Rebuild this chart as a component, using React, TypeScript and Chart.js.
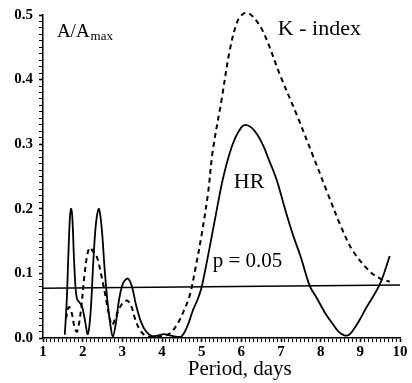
import React, { useEffect, useRef } from 'react';
import { Chart, registerables } from 'chart.js';

Chart.register(...registerables);

// HR (solid) spectrum
const hrPeriod = [1.55, 1.6, 1.64, 1.68, 1.71, 1.74, 1.78, 1.82, 1.86, 1.92, 1.98, 2.05, 2.13, 2.2, 2.27, 2.34, 2.41, 2.48, 2.55, 2.62, 2.7, 2.76, 2.83, 2.92, 3.02, 3.14, 3.24, 3.35, 3.47, 3.6, 3.75, 3.9, 4.05, 4.2, 4.35, 4.5, 4.65, 4.78, 4.9, 5.0, 5.2, 5.4, 5.53, 5.7, 5.85, 6.0, 6.1, 6.25, 6.4, 6.55, 6.7, 6.89, 7.1, 7.3, 7.5, 7.73, 7.9, 8.1, 8.3, 8.45, 8.6, 8.72, 8.85, 9.0, 9.16, 9.33, 9.49, 9.62, 9.74];
const hrAmp = [0.005, 0.06, 0.13, 0.188, 0.2, 0.186, 0.125, 0.078, 0.06, 0.055, 0.05, 0.03, 0.006, 0.04, 0.12, 0.18, 0.2, 0.17, 0.11, 0.06, 0.02, 0.002, 0.02, 0.06, 0.085, 0.092, 0.08, 0.05, 0.025, 0.01, 0.003, 0.004, 0.006, 0.004, 0.002, 0.003, 0.02, 0.043, 0.06, 0.079, 0.14, 0.205, 0.245, 0.285, 0.31, 0.326, 0.33, 0.326, 0.315, 0.298, 0.275, 0.245, 0.2, 0.16, 0.125, 0.08, 0.062, 0.04, 0.022, 0.01, 0.004, 0.005, 0.015, 0.03, 0.048, 0.065, 0.083, 0.104, 0.127];

// K-index (dashed) spectrum
const kPeriod = [1.58, 1.65, 1.72, 1.8, 1.86, 1.95, 2.05, 2.12, 2.18, 2.25, 2.36, 2.46, 2.56, 2.65, 2.74, 2.82, 2.92, 3.02, 3.12, 3.22, 3.32, 3.42, 3.55, 3.7, 3.9, 4.1, 4.25, 4.4, 4.55, 4.7, 4.85, 5.0, 5.16, 5.28, 5.5, 5.71, 5.9, 6.05, 6.16, 6.3, 6.5, 6.67, 6.97, 7.4, 7.8, 8.15, 8.53, 8.81, 9.24, 9.5, 9.74];
const kAmp = [0.03, 0.048, 0.04, 0.015, 0.01, 0.04, 0.1, 0.13, 0.14, 0.135, 0.125, 0.1, 0.07, 0.04, 0.02, 0.03, 0.045, 0.055, 0.058, 0.05, 0.03, 0.015, 0.005, 0.002, 0.002, 0.004, 0.01, 0.023, 0.042, 0.066, 0.11, 0.16, 0.224, 0.29, 0.368, 0.446, 0.49, 0.502, 0.503, 0.497, 0.48, 0.457, 0.408, 0.345, 0.283, 0.228, 0.17, 0.135, 0.103, 0.092, 0.087];

// significance level p = 0.05
const pPeriod = [1, 10];
const pAmp = [0.077, 0.082];

const xTickLabels = ['1', '2', '3', '4', '5', '6', '7', '8', '9', '10'];
const yTickLabels = ['0.0', '0.1', '0.2', '0.3', '0.4', '0.5'];

const toXY = (xs: number[], ys: number[]) => xs.map((x, i) => ({ x, y: ys[i] }));

const SERIF = '"Liberation Serif", "Times New Roman", serif';

const textPlugin = {
  id: 'textLabels',
  afterDraw(chart: any) {
    const { ctx, scales } = chart;
    const xs = scales.x;
    const ys = scales.y;
    ctx.save();
    ctx.fillStyle = '#000';
    ctx.textBaseline = 'alphabetic';
    ctx.textAlign = 'left';

    // A/A_max
    ctx.font = `19px ${SERIF}`;
    const ax = xs.getPixelForValue(1.35);
    const ay = ys.getPixelForValue(0.466);
    ctx.fillText('A/A', ax, ay);
    const w = ctx.measureText('A/A').width;
    ctx.font = `13px ${SERIF}`;
    ctx.fillText('max', ax + w + 1, ay + 3);

    ctx.font = `22px ${SERIF}`;
    ctx.fillText('K - index', xs.getPixelForValue(6.92), ys.getPixelForValue(0.469));
    ctx.fillText('HR', xs.getPixelForValue(5.81), ys.getPixelForValue(0.232));
    ctx.font = `21px ${SERIF}`;
    ctx.fillText('p = 0.05', xs.getPixelForValue(5.28), ys.getPixelForValue(0.11));

    // x-axis title
    ctx.font = `21px ${SERIF}`;
    ctx.textAlign = 'center';
    ctx.fillText('Period, days', xs.getPixelForValue(5.96), chart.height - 8);
    ctx.restore();
  },
};

export default function App() {
  const ref = useRef<HTMLCanvasElement | null>(null);

  useEffect(() => {
    document.body.style.margin = '0';
    const canvas = ref.current;
    if (!canvas) return;
    const chart = new Chart(canvas, {
      type: 'line',
      data: {
        datasets: [
          {
            label: 'HR',
            data: toXY(hrPeriod, hrAmp),
            borderColor: '#000',
            borderWidth: 1.8,
            pointRadius: 0,
            fill: false,
            tension: 0.35,
          },
          {
            label: 'K - index',
            data: toXY(kPeriod, kAmp),
            borderColor: '#000',
            borderWidth: 2,
            borderDash: [5, 4],
            pointRadius: 0,
            fill: false,
            tension: 0.35,
            clip: false,
          },
          {
            label: 'p = 0.05',
            data: toXY(pPeriod, pAmp),
            borderColor: '#000',
            borderWidth: 1.5,
            pointRadius: 0,
            fill: false,
          },
        ],
      },
      options: {
        animation: false,
        responsive: false,
        devicePixelRatio: 1,
        layout: { padding: { left: 0, right: 12, top: 15, bottom: 0 } },
        plugins: { legend: { display: false }, tooltip: { enabled: false }, title: { display: false } },
        scales: {
          x: {
            type: 'linear',
            min: 1,
            max: 10,
            afterFit: (s: any) => { s.height = 45; },
            border: { display: true, color: '#000', width: 1.5 },
            grid: {
              drawOnChartArea: false,
              drawTicks: true,
              tickLength: 4,
              tickColor: '#000',
              tickWidth: (c: any) => (Math.abs(c.tick.value - Math.round(c.tick.value)) < 1e-6 ? 1.6 : 1),
            },
            ticks: {
              stepSize: 0.1,
              autoSkip: false,
              maxRotation: 0,
              padding: 1,
              color: '#000',
              font: { family: SERIF, size: 15, weight: 'bold' },
              callback: (v: any) => {
                const n = Number(v);
                const r = Math.round(n);
                return Math.abs(n - r) < 1e-6 ? xTickLabels[r - 1] : '';
              },
            },
          },
          y: {
            type: 'linear',
            min: 0,
            max: 0.5,
            afterFit: (s: any) => { s.width = 43; },
            border: { display: true, color: '#000', width: 1.5 },
            grid: {
              drawOnChartArea: false,
              drawTicks: true,
              tickLength: 4,
              tickColor: '#000',
              tickWidth: (c: any) => (Math.abs(c.tick.value * 10 - Math.round(c.tick.value * 10)) < 1e-6 ? 1.6 : 1),
            },
            ticks: {
              stepSize: 0.01,
              autoSkip: false,
              padding: 6,
              color: '#000',
              font: { family: SERIF, size: 15, weight: 'bold' },
              callback: (v: any) => {
                const n = Number(v) * 10;
                const r = Math.round(n);
                return Math.abs(n - r) < 1e-6 ? yTickLabels[r] : '';
              },
            },
          },
        },
      },
      plugins: [textPlugin],
    } as any);
    return () => chart.destroy();
  }, []);

  return (
    <div style={{ width: 412, height: 383 }}>
      <canvas ref={ref} width={412} height={383} />
    </div>
  );
}
